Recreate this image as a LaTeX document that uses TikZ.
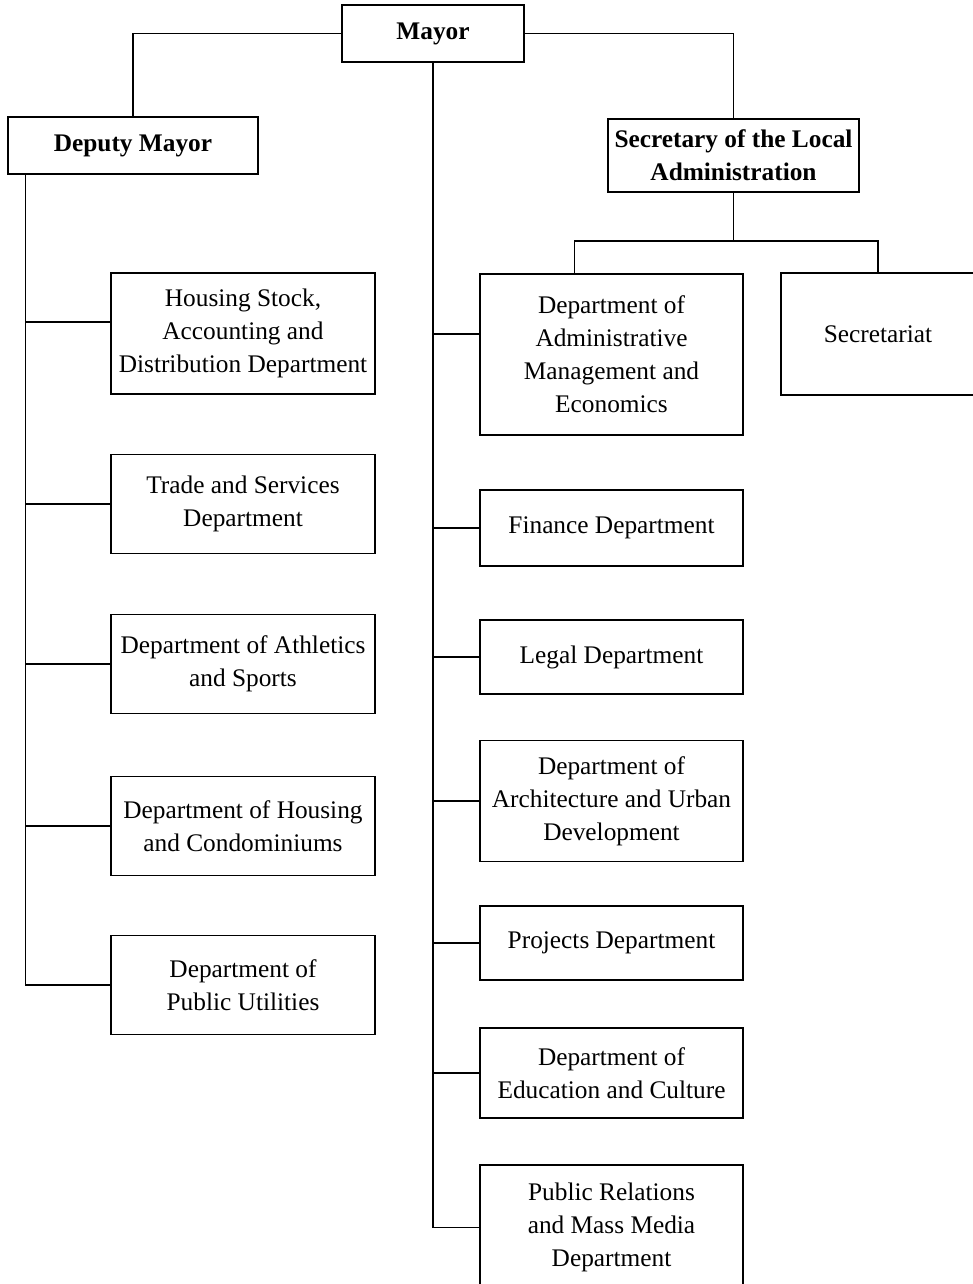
\documentclass[tikz,border=0pt]{standalone}
\usepackage{fontspec}
\setmainfont{Liberation Serif}

\tikzset{every picture/.style={line width=1pt}}
\tikzset{
	box/.style={draw, align=center, inner sep=0pt, font=\fontsize{19}{24.75}\selectfont},
	headbox/.style={box, font=\fontsize{19}{24.75}\selectfont\bfseries},
	leftbox/.style={box, minimum width=198pt},
	midbox/.style={box, minimum width=197.25pt}}

\begin{document}
\begin{tikzpicture}[x=0.75pt,y=0.75pt,yscale=-1,xscale=1]
	\useasboundingbox (0,0) rectangle (973,1284);

	%Shape: Rectangle [mayor]
	\node [headbox, minimum width=136.5pt, minimum height=42.75pt] (mayor) at (433,33.5) {Mayor};
	%Shape: Rectangle [deputy]
	\node [headbox, minimum width=187.5pt, minimum height=42.75pt] (deputy) at (133,145.5) {Deputy Mayor};
	%Shape: Rectangle [secretary]
	\node [headbox, minimum width=188.25pt, minimum height=54.75pt] (secretary) at (733.5,155.5) {Secretary of the Local\\Administration};

	% Text Node  -- left column
	\node [leftbox, minimum height=90.75pt] (hstock) at (243,333.5) {Housing Stock,\\Accounting and\\Distribution Department};
	\node [leftbox, minimum height=74.25pt] (trade) at (243,504) {Trade and Services\\Department};
	\node [leftbox, minimum height=74.25pt] (athletics) at (243,664) {Department of Athletics\\and Sports};
	\node [leftbox, minimum height=74.25pt] (condos) at (243,826) {Department of Housing\\and Condominiums};
	\node [leftbox, minimum height=74.25pt] (utilities) at (243,985) {Department of\\Public Utilities};

	% Text Node  -- middle column
	\node [midbox, minimum height=120.75pt] (admin) at (611.5,354.5) {Department of\\Administrative\\Management and\\Economics};
	\node [midbox, minimum height=57pt] (finance) at (611.5,528) {Finance Department};
	\node [midbox, minimum height=55.5pt] (legal) at (611.5,657) {Legal Department};
	\node [midbox, minimum height=90.75pt] (archi) at (611.5,801) {Department of\\Architecture and Urban\\Development};
	\node [midbox, minimum height=55.5pt] (projects) at (611.5,943) {Projects Department};
	\node [midbox, minimum height=67.5pt] (education) at (611.5,1073) {Department of\\Education and Culture};
	\node [midbox, minimum height=93.75pt] (pr) at (611.5,1227.5) {Public Relations\\and Mass Media\\Department};

	% Text Node  -- right
	\node [box, minimum width=145.5pt, minimum height=91.5pt] (secretariat) at (878,334) {Secretariat};

	%Straight Lines -- from the mayor
	\draw (mayor.west) -| (deputy.north);
	\draw (mayor.east) -| (secretary.north);
	\draw (mayor.south) |- (pr.west);
	\coordinate (abranch) at ([yshift=-15.4pt]admin.west);
	\draw (mayor.south |- abranch) -- (abranch);
	\foreach \n in {finance,legal,archi,projects,education}
		\draw (mayor.south |- \n.west) -- (\n.west);

	%Straight Lines -- deputy trunk
	\coordinate (ltrunk) at ([xshift=13.5pt]deputy.south west);
	\draw (ltrunk) |- (utilities.west);
	\coordinate (hbranch) at ([yshift=-8.6pt]hstock.west);
	\draw (ltrunk |- hbranch) -- (hbranch);
	\foreach \n in {trade,athletics,condos}
		\draw (ltrunk |- \n.west) -- (\n.west);

	%Straight Lines -- secretary
	\coordinate (sbus) at (733.5,241);
	\coordinate (atop) at ([xshift=71.25pt]admin.north west);
	\draw (secretary.south) -- (sbus);
	\draw (atop) |- (sbus) -| (secretariat.north);

\end{tikzpicture}
\end{document}
